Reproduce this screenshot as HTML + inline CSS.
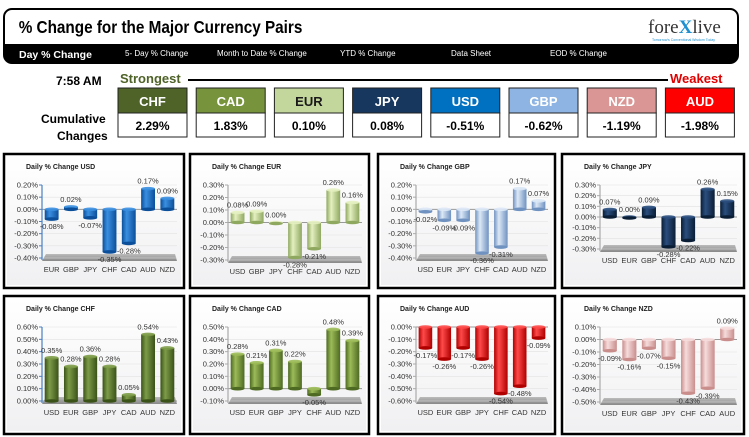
<!DOCTYPE html>
<html><head><meta charset="utf-8"><style>
body{margin:0;background:#fff;width:749px;height:437px;overflow:hidden;font-family:"Liberation Sans",sans-serif}
svg{display:block}
</style></head><body>
<svg id="s" width="749" height="437" viewBox="0 0 749 437" xmlns="http://www.w3.org/2000/svg">
<defs>
<linearGradient id="floor" x1="0" y1="0" x2="0" y2="1"><stop offset="0" stop-color="#bbb"/><stop offset="1" stop-color="#888"/></linearGradient>
<linearGradient id="plotbg" x1="0" y1="0" x2="0" y2="1"><stop offset="0" stop-color="#fff"/><stop offset="1" stop-color="#f0f0f2"/></linearGradient>
</defs>
<g>
<rect x="4" y="9" width="734" height="54" rx="8" fill="#fff" stroke="#000" stroke-width="2"/>
<path d="M4 44 H738 V55 Q738 63 730 63 H12 Q4 63 4 55 Z" fill="#000"/>
<text x="22" y="33" font-size="18" font-weight="bold" transform="scale(0.85,1)">% Change for the Major Currency Pairs</text>
<text x="648" y="33" font-family="Liberation Serif" font-size="19" fill="#333">fore<tspan fill="#1e90d0" font-weight="bold">X</tspan>live</text>
<text x="652" y="41" font-size="3.5" fill="#1e90d0">Tomorrow's Conventional Wisdom Today</text>
<text x="19" y="58" font-size="10.5" font-weight="bold" fill="#fff">Day % Change</text>
<text x="125" y="56" font-size="8" fill="#fff">5- Day % Change</text>
<text x="217" y="56" font-size="8" fill="#fff">Month to Date % Change</text>
<text x="340" y="56" font-size="8" fill="#fff">YTD % Change</text>
<text x="451" y="56" font-size="8" fill="#fff">Data Sheet</text>
<text x="550" y="56" font-size="8" fill="#fff">EOD % Change</text>
</g>
<g>
<text x="56" y="85" font-size="12" font-weight="bold">7:58 AM</text>
<text x="120" y="83" font-size="13" font-weight="bold" fill="#4f6228">Strongest</text>
<line x1="188" y1="80" x2="668" y2="80" stroke="#000" stroke-width="2"/>
<text x="670" y="83" font-size="13" font-weight="bold" fill="#e00000">Weakest</text>
<text x="41" y="123" font-size="12" font-weight="bold">Cumulative</text>
<text x="57" y="140" font-size="12" font-weight="bold">Changes</text>
<g id="boxes"></g>
</g>
<g id="charts"></g>
</svg>
<script>
const NS="http://www.w3.org/2000/svg";
const svg=document.getElementById('s');
function mk(t,a,p){const e=document.createElementNS(NS,t);for(const k in a)e.setAttribute(k,a[k]);(p||svg).appendChild(e);return e;}

const rankCurrencies=["CHF","CAD","EUR","JPY","USD","GBP","NZD","AUD"];
const rankValues=[2.29,1.83,0.10,0.08,-0.51,-0.62,-1.19,-1.98];
const rankColors=["#4f6228","#77933c","#c3d69b","#17375e","#0070c0","#8db4e2","#da9694","#ff0000"];
const boxes=document.getElementById('boxes');
rankCurrencies.forEach((c,i)=>{
  const x=118+i*78.2;
  const g=mk('g',{},boxes);
  
  
  mk('rect',{x:x,y:88,width:69,height:25,fill:rankColors[i],stroke:'#222','stroke-width':1},g);
  mk('rect',{x:x,y:113,width:69,height:24,fill:'#fff',stroke:'#222','stroke-width':1},g);
  const t=mk('text',{x:x+34.5,y:106,'text-anchor':'middle','font-size':13,'font-weight':'bold',fill:i==2?'#1a1a1a':'#fff'},g);
  t.textContent=c;
  const v=mk('text',{x:x+34.5,y:130,'text-anchor':'middle','font-size':12,'font-weight':'bold'},g);
  v.textContent=rankValues[i].toFixed(2)+'%';
});

const usdCats=["EUR","GBP","JPY","CHF","CAD","AUD","NZD"];
const usdVals=[-0.08,0.02,-0.07,-0.35,-0.28,0.17,0.09];
const eurCats=["USD","GBP","JPY","CHF","CAD","AUD","NZD"];
const eurVals=[0.08,0.09,0.00,-0.28,-0.21,0.26,0.16];
const gbpCats=["USD","EUR","JPY","CHF","CAD","AUD","NZD"];
const gbpVals=[-0.02,-0.09,-0.09,-0.36,-0.31,0.17,0.07];
const jpyCats=["USD","EUR","GBP","CHF","CAD","AUD","NZD"];
const jpyVals=[0.07,0.00,0.09,-0.28,-0.22,0.26,0.15];
const chfCats=["USD","EUR","GBP","JPY","CAD","AUD","NZD"];
const chfVals=[0.35,0.28,0.36,0.28,0.05,0.54,0.43];
const cadCats=["USD","EUR","GBP","JPY","CHF","AUD","NZD"];
const cadVals=[0.28,0.21,0.31,0.22,-0.05,0.48,0.39];
const audCats=["USD","EUR","GBP","JPY","CHF","CAD","NZD"];
const audVals=[-0.17,-0.26,-0.17,-0.26,-0.54,-0.48,-0.09];
const nzdCats=["USD","EUR","GBP","JPY","CHF","CAD","AUD"];
const nzdVals=[-0.09,-0.16,-0.07,-0.15,-0.43,-0.39,0.09];
const usdTicks=[0.2,0.1,0,-0.1,-0.2,-0.3,-0.4];
const eurTicks=[0.3,0.2,0.1,0,-0.1,-0.2,-0.3];
const gbpTicks=[0.2,0.1,0,-0.1,-0.2,-0.3,-0.4];
const jpyTicks=[0.3,0.2,0.1,0,-0.1,-0.2,-0.3];
const chfTicks=[0.6,0.5,0.4,0.3,0.2,0.1,0];
const cadTicks=[0.5,0.4,0.3,0.2,0.1,0,-0.1];
const audTicks=[0,-0.1,-0.2,-0.3,-0.4,-0.5,-0.6];
const nzdTicks=[0.1,0,-0.1,-0.2,-0.3,-0.4,-0.5];

const charts=[
 {name:'USD',cats:usdCats,vals:usdVals,ticks:usdTicks,x:4,y:154,w:180,h:134,bot:104,c1:'#0b4f9a',c2:'#3a8fe0',axis:'#4a7fc0'},
 {name:'EUR',cats:eurCats,vals:eurVals,ticks:eurTicks,x:190,y:154,w:179,h:134,bot:106,c1:'#8fa860',c2:'#e4f0c0',axis:'#aaa'},
 {name:'GBP',cats:gbpCats,vals:gbpVals,ticks:gbpTicks,x:378,y:154,w:177,h:134,bot:104,c1:'#6f92c0',c2:'#dce8f6',axis:'#aaa'},
 {name:'JPY',cats:jpyCats,vals:jpyVals,ticks:jpyTicks,x:562,y:154,w:182,h:134,bot:95,c1:'#0a1e36',c2:'#2a4e7e',axis:'#aaa'},
 {name:'CHF',cats:chfCats,vals:chfVals,ticks:chfTicks,x:4,y:296,w:180,h:138,bot:105,c1:'#3a5218',c2:'#7d9c48',axis:'#4a7fc0'},
 {name:'CAD',cats:cadCats,vals:cadVals,ticks:cadTicks,x:190,y:296,w:179,h:138,bot:105,c1:'#4e6a22',c2:'#9cbb58',axis:'#aaa'},
 {name:'AUD',cats:audCats,vals:audVals,ticks:audTicks,x:378,y:296,w:177,h:138,bot:105,c1:'#b00000',c2:'#ff4a4a',axis:'#aaa'},
 {name:'NZD',cats:nzdCats,vals:nzdVals,ticks:nzdTicks,x:562,y:296,w:182,h:138,bot:106,c1:'#c98e8c',c2:'#f6dcdc',axis:'#aaa'}
];
const root=document.getElementById('charts');
const defs=svg.querySelector('defs');
charts.forEach(ch=>{
  const id=ch.name.toLowerCase();
  const g=mk('g',{},root);
  
  
  const gr=mk('linearGradient',{id:'g'+id,x1:0,y1:0,x2:1,y2:0},defs);
  mk('stop',{offset:0,'stop-color':ch.c1},gr);mk('stop',{offset:0.35,'stop-color':ch.c2},gr);mk('stop',{offset:1,'stop-color':ch.c1},gr);
  mk('rect',{x:ch.x,y:ch.y,width:ch.w,height:ch.h,fill:'#fff',stroke:'#000','stroke-width':2.5},g);
  mk('rect',{x:ch.x+3,y:ch.y+3,width:ch.w-6,height:ch.h-6,fill:'url(#plotbg)'},g);
  const tt=mk('text',{x:ch.x+22,y:ch.y+15,'font-size':7,'font-weight':'bold',fill:'#222'},g);
  
  
  tt.textContent='Daily % Change '+ch.name;
  const L=ch.x+38, R=ch.x+ch.w-7, T=ch.y+31, B=ch.y+ch.bot;
  const ymax=Math.max(...ch.ticks), ymin=Math.min(...ch.ticks);
  const Y=v=>T+(ymax-v)/(ymax-ymin)*(B-T);
  const fl=mk('path',{d:`M${L+4} ${B-4} H${R-2} L${R} ${B+3} H${L} Z`,fill:'url(#floor)'},g);
  
  
  ch.ticks.forEach(t=>{
    mk('line',{x1:L,x2:R,y1:Y(t),y2:Y(t),stroke:t===0?'#999':'#e2e2e2','stroke-width':t===0?1:0.6},g);
    mk('line',{x1:L-3,x2:L,y1:Y(t),y2:Y(t),stroke:ch.axis,'stroke-width':1},g);
    const tl=mk('text',{x:L-4,y:Y(t)+2.5,'text-anchor':'end','font-size':7.5,fill:'#333'},g);
    
    
    tl.textContent=t.toFixed(2)+'%';
  });
  mk('line',{x1:L,x2:L,y1:T,y2:B+2,stroke:ch.axis,'stroke-width':1.2},g);
  const band=(R-L)/ch.cats.length, bw=band*0.72;
  ch.cats.forEach((c,i)=>{
    const cx=L+band*(i+0.5), v=ch.vals[i];
    const y0=Y(0), y1=Y(v), top=Math.min(y0,y1), hgt=Math.max(Math.abs(y1-y0),1);
    const b=mk('g',{},g);
    
    
    mk('rect',{x:cx-bw/2,y:top,width:bw,height:hgt,fill:'url(#g'+id+')'},b);
    mk('ellipse',{cx:cx,cy:top,rx:bw/2,ry:1.8,fill:ch.c2,opacity:0.9},b);
    mk('ellipse',{cx:cx,cy:top+hgt,rx:bw/2,ry:1.8,fill:ch.c1},b);
    const vl=mk('text',{x:cx,y:v>=0?y1-5:y1+10,'text-anchor':'middle','font-size':7.5,fill:'#333'},g);
    
    
    vl.textContent=v.toFixed(2)+'%';
    const cl=mk('text',{x:cx,y:B+14,'text-anchor':'middle','font-size':7.5,fill:'#333'},g);
    
    
    cl.textContent=c;
  });
});
</script>
</body></html>
